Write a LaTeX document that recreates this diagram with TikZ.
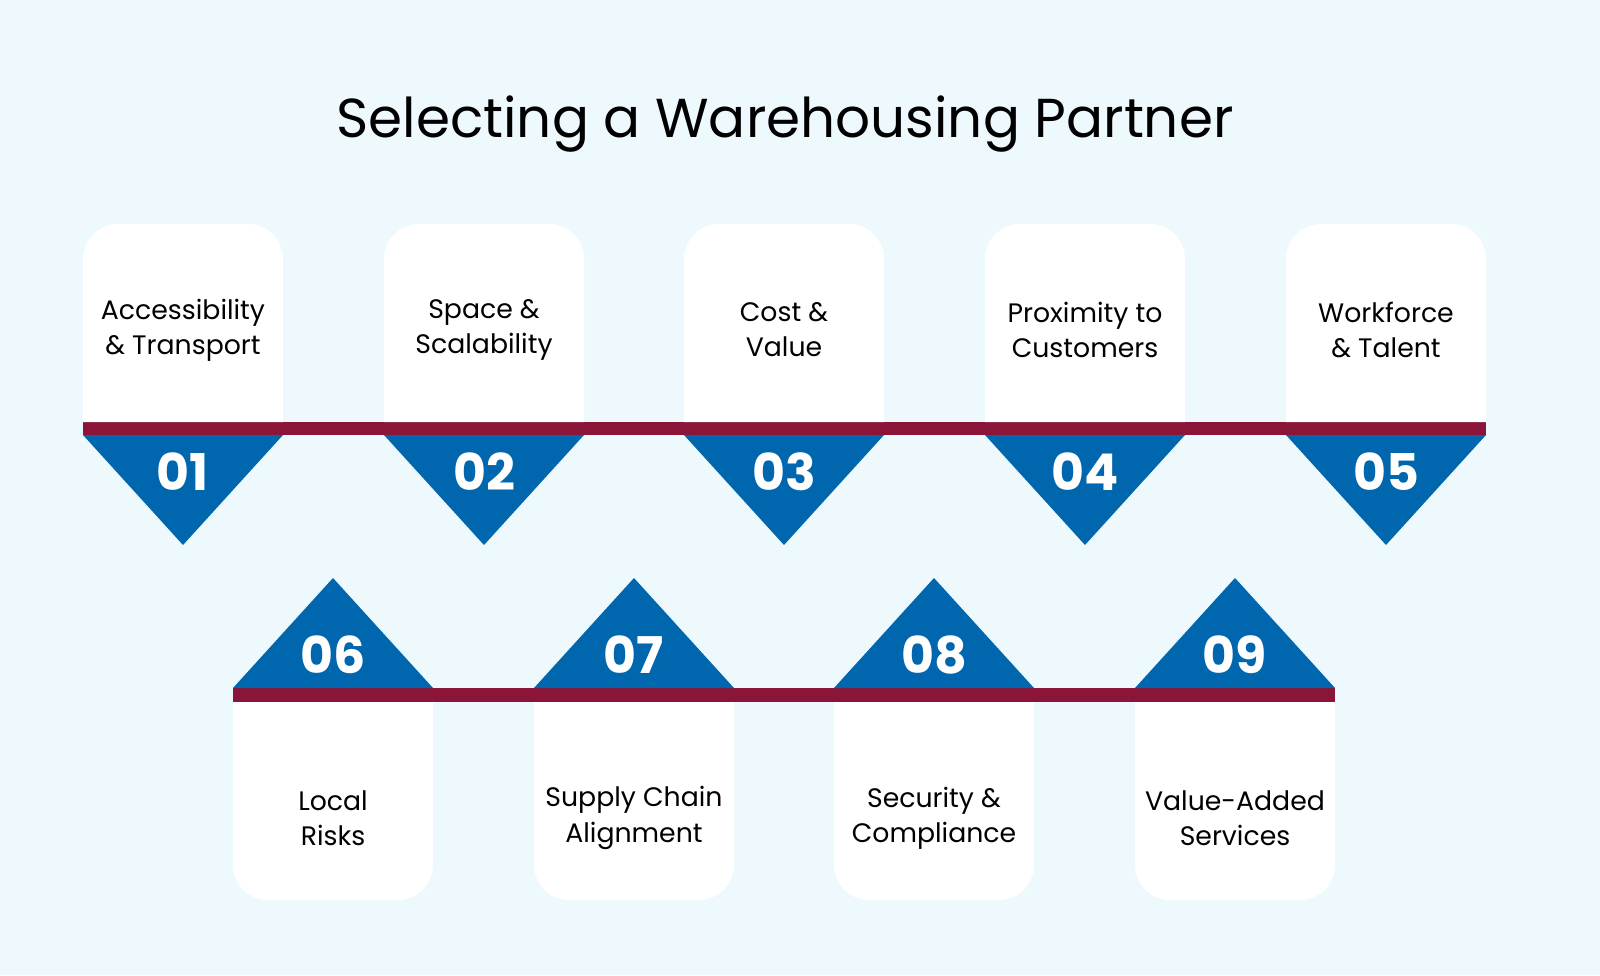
\documentclass[tikz,border=0pt]{standalone}
\usepackage{fontspec}
\setmainfont{Poppins}
\usetikzlibrary{positioning}
\definecolor{bgblue}{HTML}{EEF9FE}
\definecolor{triblue}{HTML}{0067AE}
\definecolor{barred}{HTML}{8A1538}
\tikzset{
    card label/.style={align=center, font=\fontsize{19}{25}\selectfont, text=black},
    num label/.style={font=\fontsize{36}{40}\selectfont\bfseries, text=white},
}
\begin{document}
\begin{tikzpicture}[x=0.025cm, y=-0.025cm]

    % Background
    \fill[bgblue] (0,0) rectangle (1600,975);
    \useasboundingbox (0,0) rectangle (1600,975);

    % Title
    \node (title) at (785,124) {\fontsize{39}{46}\selectfont Selecting a Warehousing Partner};

    % Bars
    \fill[barred] (83,422) rectangle (1486,435);
    \fill[barred] (233,688) rectangle (1335,702);

    % Top cards and triangles
    \foreach \x/\n/\txt in {83/01/{Accessibility\\\& Transport}, 384/02/{Space \&\\Scalability},
        684/03/{Cost \&\\Value}, 985/04/{Proximity to\\Customers}, 1286/05/{Workforce\\\& Talent}} {
        \fill[white] (\x,422) [rounded corners=25] -- (\x,224) -- (\x+200,224) [sharp corners] -- (\x+200,422) -- cycle;
        \fill[triblue] (\x,435) -- (\x+200,435) -- (\x+100,545) -- cycle;
        \node[card label] (top\n) at (\x+100,330) {\txt};
        \node[num label] (num\n) at (\x+100,472) {\n};
    }

    % Bottom cards and triangles
    \foreach \x/\n/\txt in {233/06/{Local\\Risks}, 534/07/{Supply Chain\\Alignment},
        834/08/{Security \&\\Compliance}, 1135/09/{Value-Added\\Services}} {
        \fill[white] (\x,702) [rounded corners=25] -- (\x,900) -- (\x+200,900) [sharp corners] -- (\x+200,702) -- cycle;
        \fill[triblue] (\x,688) -- (\x+200,688) -- (\x+100,578) -- cycle;
        \node[card label] (bot\n) at (\x+100,818) {\txt};
        \node[num label] (num\n) at (\x+100,655) {\n};
    }

\end{tikzpicture}
\end{document}
